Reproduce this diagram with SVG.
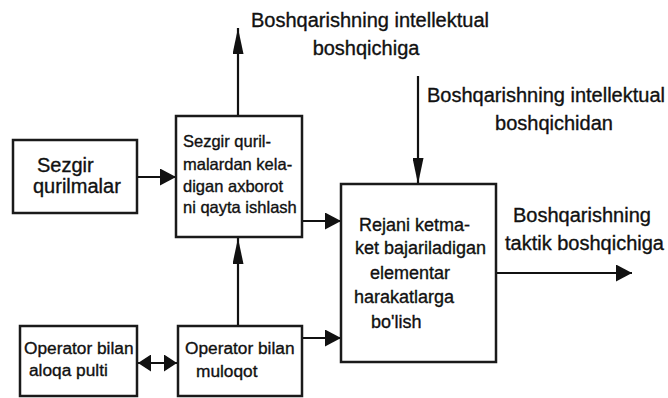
<svg xmlns="http://www.w3.org/2000/svg" width="668" height="398" viewBox="0 0 668 398">
<style>
.box{fill:#fff;stroke:#1a1a1a;stroke-width:2.5}
.ln{stroke:#111;stroke-width:2.2;fill:none}
text{font-family:"Liberation Sans",Arial,sans-serif;fill:#111;stroke:#111;stroke-width:0.35}
.l{font-size:20px}
.m{font-size:18px}
.s{font-size:16.5px}
.o{font-size:17.3px}
</style>
<defs>
<marker id="ah" viewBox="0 0 16 17" refX="16" refY="8.5" markerWidth="16" markerHeight="17" markerUnits="userSpaceOnUse" orient="auto">
<path d="M0,0 L16,8.5 L0,17 Z" fill="#111"/>
</marker>
<marker id="avert" viewBox="0 0 26 11" refX="26" refY="5.5" markerWidth="26" markerHeight="11" markerUnits="userSpaceOnUse" orient="auto">
<path d="M0,0 L26,5.5 L0,11 Z" fill="#111"/>
</marker>
<marker id="ad" viewBox="0 0 13 17" refX="13" refY="8.5" markerWidth="13" markerHeight="17" markerUnits="userSpaceOnUse" orient="auto-start-reverse">
<path d="M0,0 L13,8.5 L0,17 Z" fill="#111"/>
</marker>
</defs>
<g id="connectors">
<line class="ln" x1="238" y1="116" x2="238" y2="28" marker-end="url(#avert)"/>
<line class="ln" x1="418" y1="76" x2="418" y2="184" marker-end="url(#avert)"/>
<line class="ln" x1="137" y1="177" x2="176" y2="177" marker-end="url(#ah)"/>
<line class="ln" x1="302" y1="221" x2="341" y2="221" marker-end="url(#ah)"/>
<line class="ln" x1="302" y1="338" x2="341" y2="338" marker-end="url(#ah)"/>
<line class="ln" x1="238" y1="326" x2="238" y2="238" marker-end="url(#avert)"/>
<line class="ln" x1="138" y1="363" x2="177" y2="363" marker-start="url(#ad)" marker-end="url(#ad)"/>
<line class="ln" x1="496" y1="273" x2="632" y2="273" marker-end="url(#ah)"/>
</g>
<g id="label-top">
<text class="l" x="370" y="27" text-anchor="middle">Boshqarishning intellektual</text>
<text class="l" x="366" y="55" text-anchor="middle">boshqichiga</text>
</g>
<g id="label-right">
<text class="l" x="546" y="102" text-anchor="middle">Boshqarishning intellektual</text>
<text class="l" x="554" y="130" text-anchor="middle">boshqichidan</text>
</g>
<g id="label-tactic">
<text class="l" x="513" y="222">Boshqarishning</text>
<text class="l" x="505" y="250">taktik boshqichiga</text>
</g>
<g id="sezgir">
<rect class="box" x="13" y="140" width="124" height="73"/>
<text class="l" x="37" y="172">Sezgir</text>
<text class="l" x="33" y="193">qurilmalar</text>
</g>
<g id="qayta">
<rect class="box" x="176" y="116" width="126" height="121"/>
<text class="s" x="183" y="147">Sezgir quril-</text>
<text class="s" x="183" y="170">malardan kela-</text>
<text class="s" x="183" y="192">digan axborot</text>
<text class="s" x="183" y="213">ni qayta ishlash</text>
</g>
<g id="rejani">
<rect class="box" x="341" y="184" width="155" height="178"/>
<text class="m" x="359" y="231">Rejani ketma-</text>
<text class="m" x="355" y="254">ket bajariladigan</text>
<text class="m" x="370" y="279">elementar</text>
<text class="m" x="354" y="303">harakatlarga</text>
<text class="m" x="371" y="328">bo'lish</text>
</g>
<g id="pult">
<rect class="box" x="20" y="326" width="117" height="70"/>
<text class="o" x="24" y="354">Operator bilan</text>
<text class="o" x="29" y="376">aloqa pulti</text>
</g>
<g id="muloqot">
<rect class="box" x="178" y="326" width="124" height="70"/>
<text class="o" x="185" y="354">Operator bilan</text>
<text class="o" x="196" y="377">muloqot</text>
</g>
</svg>
